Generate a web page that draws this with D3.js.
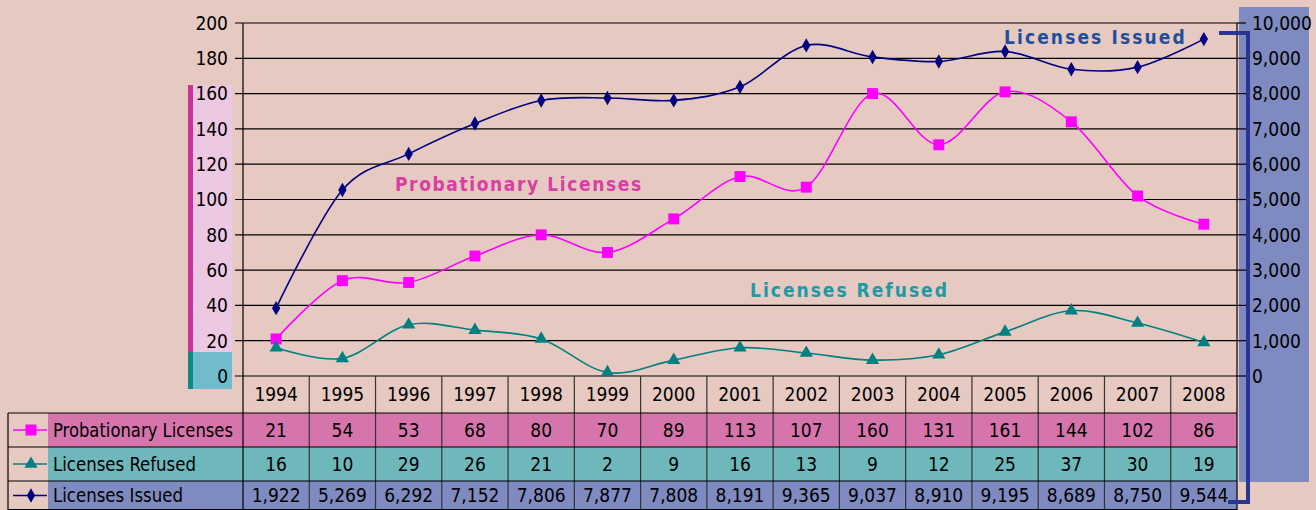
<!DOCTYPE html>
<html><head><meta charset="utf-8">
<script src="https://cdn.jsdelivr.net/npm/d3@7"></script>
<style>
html,body{margin:0;padding:0;background:#e6c9c1;}
svg{display:block;}
text{font-family:"Liberation Sans Narrow","DejaVu Sans Condensed","Arial Narrow",sans-serif;}
</style></head>
<body>
<svg id="c" width="1316" height="510"></svg>
<script>
const years = ["1994","1995","1996","1997","1998","1999","2000","2001","2002","2003","2004","2005","2006","2007","2008"];
const probationary = [21,54,53,68,80,70,89,113,107,160,131,161,144,102,86];
const refused = [16,10,29,26,21,2,9,16,13,9,12,25,37,30,19];
const issued = [1922,5269,6292,7152,7806,7877,7808,8191,9365,9037,8910,9195,8689,8750,9544];
const leftTicks = [0,20,40,60,80,100,120,140,160,180,200];
const rightTicks = [0,1000,2000,3000,4000,5000,6000,7000,8000,9000,10000];

const svg = d3.select("#c");
const L = 243, R = 1237, T = 23, B = 376;
const x = d3.scaleBand().domain(years).range([L, R]);
const cx = d => x(d) + x.bandwidth()/2;
const yL = d3.scaleLinear().domain([0,200]).range([B, T]);
const yR = d3.scaleLinear().domain([0,10000]).range([B, T]);

// background
svg.append("rect").attr("width",1316).attr("height",510).attr("fill","#e6c9c1");

// left decorative panels
svg.append("rect").attr("x",188).attr("y",85).attr("width",44).attr("height",267).attr("fill","#ecc8e2");
svg.append("rect").attr("x",188).attr("y",85).attr("width",5).attr("height",267).attr("fill","#cc3399");
svg.append("rect").attr("x",188).attr("y",352).attr("width",44).attr("height",37).attr("fill","#70bccc");
svg.append("rect").attr("x",188).attr("y",352).attr("width",5).attr("height",37).attr("fill","#0a8a8a");

// right panel
svg.append("rect").attr("x",1239).attr("y",7).attr("width",70).attr("height",475).attr("fill","#7f8bc0");

// table rows
const rowY = [376, 413, 447, 481, 512];
const rows = [
  {name:"Probationary Licenses", vals:probationary, fill:"#d675ab", color:"#ff00ff", marker:"square", fmt:d3.format("d")},
  {name:"Licenses Refused", vals:refused, fill:"#6eb8bc", color:"#008080", marker:"triangle", fmt:d3.format("d")},
  {name:"Licenses Issued", vals:issued, fill:"#7f8bc0", color:"#000080", marker:"diamond", fmt:d3.format(",")}
];
rows.forEach((r,i)=>{
  svg.append("rect").attr("x",48).attr("y",rowY[i+1]).attr("width",R-48).attr("height",rowY[i+2]-rowY[i+1]).attr("fill",r.fill);
});

// gridlines & axes
const g = svg.append("g");
leftTicks.forEach(t=>{
  g.append("line").attr("x1",235).attr("x2",R).attr("y1",yL(t)).attr("y2",yL(t)).attr("stroke","#000").attr("stroke-width",1.2);
});
rightTicks.forEach(t=>{
  g.append("line").attr("x1",R).attr("x2",1246).attr("y1",yR(t)).attr("y2",yR(t)).attr("stroke","#000").attr("stroke-width",1.2);
});
g.selectAll("text.yl").data(leftTicks).join("text").attr("class","yl")
  .attr("x",228).attr("y",d=>yL(d)).attr("dy","0.36em").attr("text-anchor","end")
  .attr("font-size",19).attr("fill","#000").text(d=>d);
g.selectAll("text.yr").data(rightTicks).join("text").attr("class","yr")
  .attr("x",1252).attr("y",d=>yR(d)).attr("dy","0.36em").attr("text-anchor","start")
  .attr("font-size",19).attr("fill","#000").text(d3.format(","));

// table lines
const tl = svg.append("g").attr("stroke","#000").attr("stroke-width",1.2);
tl.append("line").attr("x1",L).attr("x2",L).attr("y1",T).attr("y2",510);
tl.append("line").attr("x1",R).attr("x2",R).attr("y1",T).attr("y2",510);
years.forEach((yv,i)=>{ if(i>0) tl.append("line").attr("x1",x(yv)).attr("x2",x(yv)).attr("y1",B).attr("y2",510).attr("stroke","#333"); });
[413,447,481].forEach(yy=>tl.append("line").attr("x1",8).attr("x2",R).attr("y1",yy).attr("y2",yy));
tl.append("line").attr("x1",8).attr("x2",8).attr("y1",413).attr("y2",510);
tl.append("line").attr("x1",8).attr("x2",R).attr("y1",509.5).attr("y2",509.5);

// year labels
svg.selectAll("text.yr2").data(years).join("text").attr("x",d=>cx(d)).attr("y",(B+413)/2)
  .attr("dy","0.36em").attr("text-anchor","middle").attr("font-size",19).text(d=>d);

// table values and legend
const sym = {
  square: d3.symbol().type(d3.symbolSquare).size(120),
  triangle: d3.symbol().type(d3.symbolTriangle).size(75),
  diamond: d3.symbol().type(d3.symbolDiamond).size(60)
};
rows.forEach((r,i)=>{
  const yc = (rowY[i+1]+rowY[i+2])/2 + (i==2? -1:0);
  r.vals.forEach((v,j)=>{
    svg.append("text").attr("x",cx(years[j])).attr("y",yc).attr("dy","0.36em")
      .attr("text-anchor","middle").attr("font-size",19).text(r.fmt(v));
  });
  svg.append("text").attr("x",53).attr("y",yc).attr("dy","0.36em").attr("font-size",19)
    .attr("textLength",180).attr("lengthAdjust","spacingAndGlyphs").text(r.name)
    .attr("textLength", i==0?180:(i==1?143:130));
  svg.append("line").attr("x1",13).attr("x2",47).attr("y1",yc).attr("y2",yc).attr("stroke",r.color).attr("stroke-width",1.5);
  svg.append("path").attr("d",sym[r.marker]()).attr("transform",`translate(31,${yc})`).attr("fill",r.color);
});

// series lines
const series = [
  {vals:probationary, y:yL, r:rows[0]},
  {vals:refused, y:yL, r:rows[1]},
  {vals:issued, y:yR, r:rows[2]}
];
series.forEach(s=>{
  const line = d3.line().x((d,i)=>cx(years[i])).y(d=>s.y(d)).curve(d3.curveCardinal.tension(0));
  svg.append("path").attr("d",line(s.vals)).attr("fill","none").attr("stroke",s.r.color).attr("stroke-width",1.6);
  s.vals.forEach((v,i)=>{
    svg.append("path").attr("d",sym[s.r.marker]()).attr("transform",`translate(${cx(years[i])},${s.y(v)})`).attr("fill",s.r.color);
  });
});

// series labels
const lab = svg.append("g").style("font-family","'Liberation Sans',Arial,sans-serif").attr("font-weight","bold");
lab.append("text").attr("x",1004).attr("y",44).attr("font-size",19).attr("letter-spacing",2.1).attr("fill","#1f4f9c").text("Licenses Issued");
lab.append("text").attr("x",395).attr("y",191).attr("font-size",19).attr("letter-spacing",1.6).attr("fill","#d93fa3").text("Probationary Licenses");
lab.append("text").attr("x",750).attr("y",297).attr("font-size",19).attr("letter-spacing",2.0).attr("fill","#1c9aa6").text("Licenses Refused");

// bracket
svg.append("path").attr("d","M1219,33 H1248 V502 H1228").attr("fill","none").attr("stroke","#283593").attr("stroke-width",4);
</script>
</body></html>
